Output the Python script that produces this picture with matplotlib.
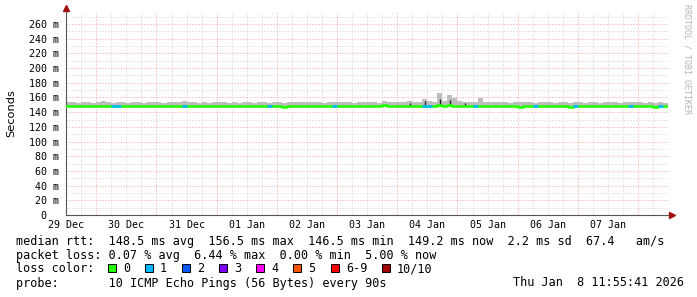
import numpy as np
import matplotlib
matplotlib.use('Agg')
import matplotlib.pyplot as plt
from matplotlib.patches import Rectangle
from datetime import datetime, timedelta

# time window of the graph
t_start = datetime(2025, 12, 29, 11, 55, 41)
t_end = datetime(2026, 1, 8, 11, 55, 41)
first_sample = datetime(2025, 12, 29, 12, 0)
step_h = 2  # one value every 2 hours

# median rtt (ms), one row per day
median = [
    148.6, 148.5, 148.4, 148.7, 148.5, 148.3, 148.5, 148.7, 148.5, 148.0, 148.5, 148.6,
    148.4, 148.5, 148.8, 148.5, 148.3, 148.6, 148.5, 148.4, 148.6, 148.5, 148.3, 148.9,
    148.5, 148.6, 148.4, 148.5, 148.3, 148.5, 148.6, 148.4, 148.2, 148.5, 148.1, 148.4,
    148.5, 148.3, 148.6, 148.4, 148.1, 148.5, 148.4, 147.6, 148.5, 148.6, 148.3, 148.5,
    148.4, 148.6, 148.5, 148.3, 148.5, 148.7, 148.4, 148.5, 148.6, 148.2, 148.5, 148.4,
    148.6, 148.5, 148.3, 149.3, 148.5, 148.4, 148.6, 148.5, 149.0, 148.2, 148.5, 148.8,
    148.9, 148.3, 149.6, 148.7, 149.2, 148.5, 148.9, 148.5, 148.4, 148.3, 148.6, 148.5,
    148.3, 147.8, 148.5, 148.4, 148.2, 148.5, 147.6, 148.3, 148.5, 148.4, 148.6, 148.3,
    147.8, 148.5, 148.3, 148.4, 147.5, 148.3, 148.5, 148.2, 148.4, 148.3, 147.9, 148.5,
    148.4, 148.2, 148.5, 148.3, 148.5, 148.0, 148.4, 148.5, 148.3, 147.7, 148.5, 148.4,
]

# top of the smoke (ms)
smoke_top = [
    153.2, 153.6, 152.9, 154.0, 153.3, 153.0, 153.7, 154.6, 153.2, 152.8, 153.5, 153.3,
    153.0, 153.8, 153.2, 152.9, 153.4, 153.9, 153.3, 153.0, 153.6, 153.2, 153.4, 154.8,
    153.2, 153.5, 153.0, 153.8, 152.9, 153.4, 154.1, 153.2, 153.0, 153.5, 152.9, 153.6,
    153.4, 153.0, 153.8, 153.2, 152.9, 153.6, 153.4, 153.0, 154.0, 153.5, 153.2, 153.4,
    153.6, 153.2, 153.5, 153.0, 153.4, 154.4, 153.2, 153.6, 153.4, 153.0, 153.5, 153.2,
    153.8, 153.4, 153.0, 155.5, 153.6, 153.2, 153.9, 153.4, 154.6, 153.7, 154.3, 158.5,
    155.0, 154.5, 166.5, 154.8, 163.0, 159.5, 154.6, 154.0, 153.6, 153.2, 159.5, 153.9,
    153.6, 153.2, 153.7, 153.4, 153.0, 153.5, 153.2, 153.6, 153.4, 153.0, 153.8, 153.2,
    153.5, 153.0, 153.4, 153.6, 152.9, 153.2, 153.5, 153.0, 153.4, 153.2, 152.9, 153.6,
    153.2, 153.5, 153.0, 153.4, 153.6, 153.2, 153.5, 153.0, 153.4, 152.9, 153.2, 153.0,
]
smoke_floor = 146.5

# lost pings per sample (index into loss colours)
loss = [
    0, 0, 0, 0, 0, 0, 0, 0, 0, 1, 1, 0,
    0, 0, 0, 0, 0, 0, 0, 0, 0, 0, 0, 1,
    0, 0, 0, 0, 0, 0, 0, 0, 0, 0, 0, 0,
    0, 0, 0, 0, 1, 0, 0, 0, 0, 0, 0, 0,
    0, 0, 0, 0, 0, 1, 0, 0, 0, 0, 0, 0,
    0, 0, 0, 0, 0, 0, 0, 0, 0, 0, 0, 1,
    1, 0, 0, 0, 0, 0, 0, 0, 0, 1, 0, 0,
    0, 0, 0, 0, 0, 0, 0, 0, 0, 1, 0, 0,
    0, 0, 0, 0, 0, 1, 0, 0, 0, 0, 0, 0,
    0, 0, 0, 0, 1, 0, 0, 0, 0, 0, 1, 0,
]

# dark smoke streaks around 03/04 Jan (index, top ms)
dark_idx = [63, 68, 71, 74, 76, 79]
dark_top = [151.5, 152.0, 155.0, 158.0, 156.0, 152.5]

loss_labels = ['0', '1', '2', '3', '4', '5', '6-9', '10/10']
loss_colors = ['#26ff00', '#00b8ff', '#0059ff', '#7e00ff', '#ff00ff', '#ff5500', '#ff0000', '#a10000']

day_labels = ['29 Dec', '30 Dec', '31 Dec', '01 Jan', '02 Jan', '03 Jan', '04 Jan', '05 Jan', '06 Jan', '07 Jan']

W, H = 697, 297
mono = 'DejaVu Sans Mono'

fig = plt.figure(figsize=(W / 100, H / 100), dpi=100)
fig.patch.set_facecolor('white')
ax = fig.add_axes([66 / W, (H - 215) / H, 602 / W, 202 / H])
ax.set_facecolor('white')

ymax = 275
ax.set_xlim(t_start, t_end)
ax.set_ylim(0, ymax)

# grid, rrdtool style
t = t_start.replace(minute=0, second=0, hour=18)
while t < t_end:
    if t.hour == 0:
        ax.axvline(t, color='#f0a0a0', lw=0.72, ls=(0, (1, 2)), zorder=1)
    else:
        ax.axvline(t, color='#d0d0d0', lw=0.72, ls=(0, (1, 2)), zorder=1)
    t += timedelta(hours=6)
for v in range(10, ymax, 10):
    c = '#f0a0a0' if v % 20 == 0 else '#d0d0d0'
    ax.axhline(v, color=c, lw=0.72, ls=(0, (1, 2)), zorder=1)

times = [first_sample + timedelta(hours=step_h * i) for i in range(len(median))]
edges = times + [times[-1] + timedelta(hours=step_h)]

# smoke
ax.fill_between(edges, smoke_floor, smoke_top + [smoke_top[-1]], step='post',
                color='#bdbdbd', lw=0, zorder=2)
for i, top in zip(dark_idx, dark_top):
    mid = times[i] + timedelta(hours=1)
    ax.vlines(mid, median[i], top, color='#202020', lw=1.0, zorder=3)

# median line coloured by loss
ax.step(edges, median + [median[-1]], where='post', color=loss_colors[0], lw=1.9, zorder=4)
for i, l in enumerate(loss):
    if l > 0:
        ax.hlines(median[i], edges[i], edges[i + 1], color=loss_colors[l], lw=1.9, zorder=5)

# axes
for s in ['top', 'right']:
    ax.spines[s].set_visible(False)
ax.spines['left'].set_color('#555555')
ax.spines['bottom'].set_color('#555555')
ax.spines['left'].set_linewidth(0.8)
ax.spines['bottom'].set_linewidth(0.8)
ax.plot([1.0, 1.004], [0, 0], transform=ax.transAxes, color='#555555', lw=0.8, clip_on=False)
ax.plot([0, 0], [1.0, 1.02], transform=ax.transAxes, color='#555555', lw=0.8, clip_on=False)
ax.plot([1.006], [0], marker='>', ms=4, color='#a01010', transform=ax.transAxes, clip_on=False)
ax.plot([0], [1.025], marker='^', ms=4, color='#a01010', transform=ax.transAxes, clip_on=False)

yt = list(range(0, 261, 20))
ax.set_yticks(yt)
ax.set_yticklabels(['0  '] + [f'{v} m' for v in yt[1:]], family=mono, fontsize=7.2)
noons = [datetime(2025, 12, 29, 12) + timedelta(days=k) for k in range(len(day_labels))]
ax.set_xticks(noons)
ax.set_xticklabels(day_labels, family=mono, fontsize=7.2)
ax.tick_params(axis='both', length=0)
ax.tick_params(axis='y', pad=5)
ax.tick_params(axis='x', pad=3.5)

fig.text(11 / W, 1 - 113 / H, 'Seconds', rotation=90, ha='center', va='center',
         family='DejaVu Sans', fontsize=8.2)
fig.text(687 / W, 1 - 59 / H, 'RRDTOOL / TOBI OETIKER', rotation=270, ha='center', va='center',
         family=mono, fontsize=6, color='#b4b4b4')

# legend block
def row(x, y, s):
    fig.text(x / W, 1 - y / H, s, ha='left', va='center', family=mono, fontsize=8.5)

row(16, 241, 'median rtt:  148.5 ms avg  156.5 ms max  146.5 ms min  149.2 ms now  2.2 ms sd  67.4   am/s')
row(16, 255, 'packet loss: 0.07 % avg  6.44 % max  0.00 % min  5.00 % now')
row(16, 269, 'loss color:')
row(16, 283, 'probe:       10 ICMP Echo Pings (56 Bytes) every 90s')
row(513, 283, 'Thu Jan  8 11:55:41 2026')

sq_x = [108, 145, 182, 219, 256, 293, 331, 382]
for x, lab, col in zip(sq_x, loss_labels, loss_colors):
    fig.add_artist(Rectangle((x / W, 1 - 272 / H), 8 / W, 8 / H, transform=fig.transFigure,
                             facecolor=col, edgecolor='black', lw=0.7))
    row(x + 15, 269, lab)

fig.savefig('out.png', dpi=100)
